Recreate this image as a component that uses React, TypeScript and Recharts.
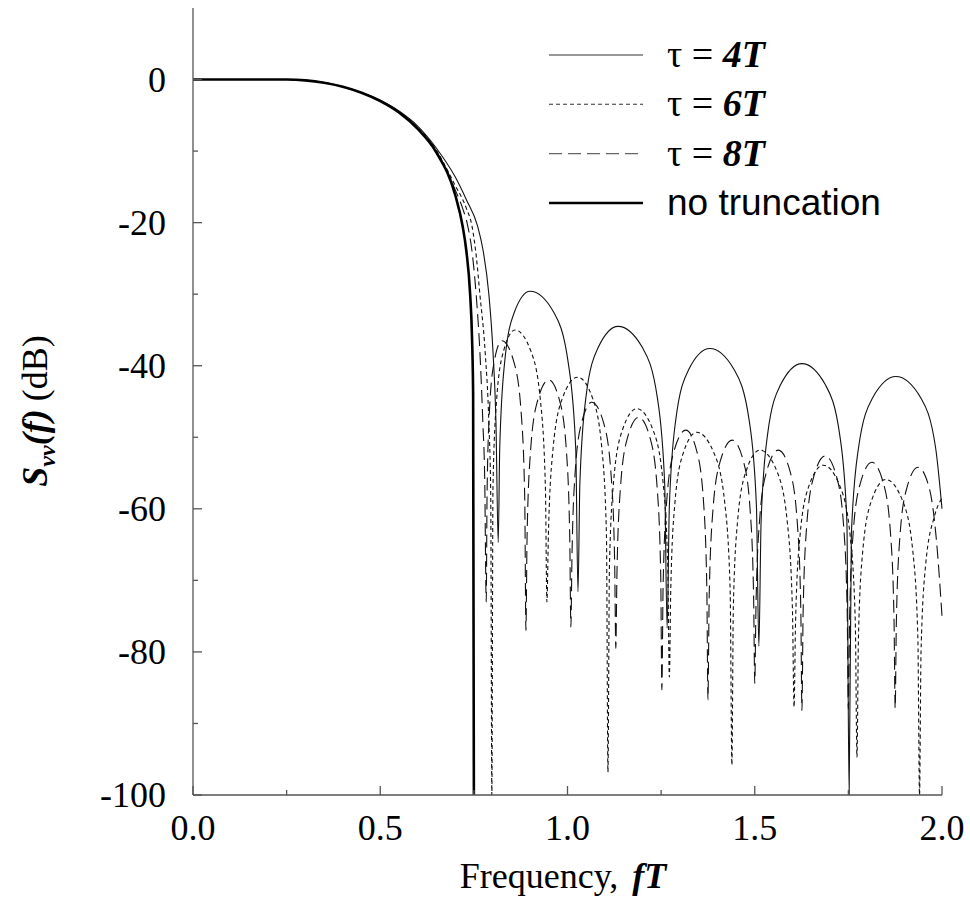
import React from 'react';
import { LineChart, Line, XAxis, YAxis } from 'recharts';

// frequency (fT) and level (dB)
const freqNoTrunc = [0, 0.25, 0.3, 0.35, 0.4, 0.45, 0.5, 0.55, 0.6, 0.65, 0.7, 0.72, 0.73, 0.74, 0.745, 0.748, 0.75];
const dbNoTrunc = [0, 0, -0.11, -0.44, -1.0, -1.84, -3.0, -4.6, -6.9, -10.2, -16.1, -20.5, -24, -30, -36, -44, -100];

const freq4T = [
  0, 0.25, 0.3, 0.4, 0.5, 0.55, 0.6, 0.65, 0.7, 0.73, 0.76, 0.775, 0.79, 0.801, 0.809, 0.815,
  0.819, 0.832, 0.8575, 0.9, 0.964, 1.002, 1.022, 1.028,
  1.033, 1.049, 1.0815, 1.135, 1.2005, 1.24, 1.2595, 1.266,
  1.272, 1.289, 1.323, 1.38, 1.4455, 1.485, 1.5045, 1.511,
  1.517, 1.534, 1.5685, 1.626, 1.689, 1.727, 1.746, 1.752,
  1.758, 1.777, 1.8145, 1.877, 1.9435, 1.983, 2.0,
];
const db4T = [
  0, 0, -0.1, -1.0, -2.9, -4.4, -6.5, -9.6, -13.6, -16.8, -20.5, -24, -30, -38, -48, -64.7,
  -51.6, -39.6, -32.6, -29.6, -32.6, -39.6, -51.6, -71.6,
  -56.5, -44.5, -37.5, -34.5, -37.5, -44.5, -56.5, -76.7,
  -59.6, -47.6, -40.6, -37.6, -40.6, -47.6, -59.6, -79.2,
  -61.7, -49.7, -42.7, -39.7, -42.7, -49.7, -61.7, -100,
  -63.5, -51.5, -44.5, -41.5, -44.5, -51.5, -60,
];

const freq6T = [
  0, 0.25, 0.3, 0.4, 0.5, 0.55, 0.6, 0.65, 0.7, 0.73, 0.745, 0.757, 0.766, 0.78, 0.79, 0.795, 0.798,
  0.801, 0.8104, 0.829, 0.86, 0.9025, 0.928, 0.941, 0.945,
  0.949, 0.9614, 0.986, 1.027, 1.0675, 1.0918, 1.104, 1.108,
  1.112, 1.1234, 1.1465, 1.185, 1.2285, 1.2546, 1.2677, 1.272,
  1.2757, 1.2866, 1.3085, 1.345, 1.392, 1.4202, 1.4343, 1.439,
  1.4428, 1.454, 1.4765, 1.514, 1.5595, 1.5868, 1.6005, 1.605,
  1.6089, 1.6206, 1.644, 1.683, 1.728, 1.755, 1.7685, 1.773,
  1.7769, 1.7884, 1.8115, 1.85, 1.895, 1.922, 1.9355, 1.94,
  1.944, 1.956, 1.98, 2.0,
];
const db6T = [
  0, 0, -0.1, -1.0, -3.0, -4.5, -6.7, -9.9, -14.8, -18, -20.5, -25, -30, -38, -48, -58, -100,
  -57, -45, -38, -35, -38, -45, -57, -73,
  -63.6, -51.6, -44.6, -41.6, -44.6, -51.6, -63.6, -96.8,
  -68, -56, -49, -46, -49, -56, -68, -83.5,
  -71.3, -59.3, -52.3, -49.3, -52.3, -59.3, -71.3, -95.8,
  -73.8, -61.8, -54.8, -51.8, -54.8, -61.8, -73.8, -87.7,
  -75.9, -63.9, -56.9, -53.9, -56.9, -63.9, -75.9, -94.7,
  -77.9, -65.9, -58.9, -55.9, -58.9, -65.9, -77.9, -100,
  -80, -68, -61, -58.5,
];

const freq8T = [
  0, 0.25, 0.3, 0.4, 0.5, 0.55, 0.6, 0.65, 0.7, 0.72, 0.733, 0.745, 0.756, 0.766, 0.774, 0.779, 0.783,
  0.7851, 0.7914, 0.804, 0.825, 0.857, 0.8762, 0.8858, 0.889,
  0.892, 0.9012, 0.9195, 0.95, 0.9795, 0.9972, 1.006, 1.009,
  1.0118, 1.0202, 1.037, 1.065, 1.097, 1.1162, 1.1258, 1.129,
  1.132, 1.1412, 1.1595, 1.19, 1.221, 1.2396, 1.2489, 1.252,
  1.2552, 1.2648, 1.284, 1.316, 1.3455, 1.3632, 1.372, 1.375,
  1.3783, 1.388, 1.4075, 1.44, 1.47, 1.488, 1.497, 1.5,
  1.5032, 1.5126, 1.5315, 1.563, 1.5945, 1.6134, 1.6229, 1.626,
  1.6291, 1.6384, 1.657, 1.688, 1.719, 1.7376, 1.7469, 1.75,
  1.7532, 1.7626, 1.7815, 1.813, 1.844, 1.8626, 1.8719, 1.875,
  1.878, 1.8872, 1.9055, 1.936, 1.9665, 1.9848, 2.0,
];
const db8T = [
  0, 0, -0.1, -1.0, -3.0, -4.55, -6.8, -10.0, -15.4, -18, -20.3, -24, -30, -38, -48, -56, -73,
  -58.5, -46.5, -39.5, -36.5, -39.5, -46.5, -58.5, -77,
  -64, -52, -45, -42, -45, -52, -64, -76.5,
  -67.1, -55.1, -48.1, -45.1, -48.1, -55.1, -67.1, -79.5,
  -69.2, -57.2, -50.2, -47.2, -50.2, -57.2, -69.2, -85.3,
  -71, -59, -52, -49, -52, -59, -71, -86.7,
  -72.4, -60.4, -53.4, -50.4, -53.4, -60.4, -72.4, -84.4,
  -73.8, -61.8, -54.8, -51.8, -54.8, -61.8, -73.8, -88.2,
  -74.6, -62.6, -55.6, -52.6, -55.6, -62.6, -74.6, -88,
  -75.5, -63.5, -56.5, -53.5, -56.5, -63.5, -75.5, -87.9,
  -76.2, -64.2, -57.2, -54.2, -57.2, -64.2, -75,
];

const xTicks = [0, 0.25, 0.5, 0.75, 1.0, 1.25, 1.5, 1.75, 2.0];
const yTicks = [-100, -90, -80, -70, -60, -50, -40, -30, -20, -10, 0];

const toPoints = (fs: number[], dbs: number[]) => fs.map((f, i) => ({ f, db: dbs[i] }));

const serif = '"Liberation Serif", "Times New Roman", Times, serif';
const sans = '"Liberation Sans", Arial, Helvetica, sans-serif';
const axisColor = '#555';

// plot box (page pixels)
const LEFT = 193;
const RIGHT = 942;
const TOP = 8;
const BOTTOM = 795;

const isMajorX = (v: number) => Math.abs(v * 2 - Math.round(v * 2)) < 1e-6;
const isMajorY = (v: number) => Math.abs(v % 20) < 1e-6;

const BottomTick = (props: any) => {
  const { x, payload } = props;
  const v = payload.value;
  const major = isMajorX(v);
  return (
    <g>
      <line x1={x} x2={x} y1={BOTTOM} y2={BOTTOM - (major ? 9 : 5)} stroke={axisColor} strokeWidth={1.3} />
      {major && (
        <text x={x} y={840} textAnchor="middle" fontFamily={serif} fontSize={36} fill="#000">
          {v.toFixed(1)}
        </text>
      )}
    </g>
  );
};

const TopTick = (props: any) => {
  const { x, payload } = props;
  const major = isMajorX(payload.value);
  return <line x1={x} x2={x} y1={TOP} y2={TOP + (major ? 9 : 5)} stroke={axisColor} strokeWidth={1.3} />;
};

const LeftTick = (props: any) => {
  const { y, payload } = props;
  const v = payload.value;
  const major = isMajorY(v);
  return (
    <g>
      <line x1={LEFT} x2={LEFT + (major ? 9 : 5)} y1={y} y2={y} stroke={axisColor} strokeWidth={1.3} />
      {major && (
        <text x={166} y={y} dy="0.34em" textAnchor="end" fontFamily={serif} fontSize={36} fill="#000">
          {v}
        </text>
      )}
    </g>
  );
};

const RightTick = (props: any) => {
  const { y, payload } = props;
  const major = isMajorY(payload.value);
  return <line x1={RIGHT} x2={RIGHT - (major ? 9 : 5)} y1={y} y2={y} stroke={axisColor} strokeWidth={1.3} />;
};

const legendRows = [
  { n: '4T', dash: undefined, width: 1.1, color: '#333' },
  { n: '6T', dash: '4 3', width: 1.1, color: '#333' },
  { n: '8T', dash: '13 6', width: 1.1, color: '#666' },
];

export default function App() {
  return (
    <div style={{ position: 'absolute', left: 0, top: 0, width: 970, height: 902, background: '#fff' }}>
      <LineChart width={970} height={902} margin={{ top: TOP, right: 970 - RIGHT, bottom: 0, left: 0 }}>
        <XAxis
          dataKey="f"
          type="number"
          domain={[0, 2]}
          ticks={xTicks}
          interval={0}
          height={902 - BOTTOM}
          tickLine={false}
          axisLine={{ stroke: axisColor, strokeWidth: 1.3 }}
          tick={<BottomTick />}
        />
        <XAxis
          xAxisId="top"
          orientation="top"
          dataKey="f"
          type="number"
          domain={[0, 2]}
          ticks={xTicks}
          interval={0}
          height={0}
          tickLine={false}
          axisLine={{ stroke: axisColor, strokeWidth: 1.3 }}
          tick={<TopTick />}
        />
        <YAxis
          type="number"
          domain={[-100, 10]}
          ticks={yTicks}
          interval={0}
          width={LEFT}
          tickLine={false}
          axisLine={{ stroke: axisColor, strokeWidth: 1.3 }}
          tick={<LeftTick />}
        />
        <YAxis
          yAxisId="right"
          orientation="right"
          type="number"
          domain={[-100, 10]}
          ticks={yTicks}
          interval={0}
          width={0}
          tickLine={false}
          axisLine={{ stroke: axisColor, strokeWidth: 1.3 }}
          tick={<RightTick />}
        />
        <Line data={toPoints(freq4T, db4T)} dataKey="db" type="monotone" stroke="#111" strokeWidth={1.1} dot={false} activeDot={false} isAnimationActive={false} />
        <Line data={toPoints(freq6T, db6T)} dataKey="db" type="monotone" stroke="#111" strokeWidth={1.1} strokeDasharray="4 3" dot={false} activeDot={false} isAnimationActive={false} />
        <Line data={toPoints(freq8T, db8T)} dataKey="db" type="monotone" stroke="#111" strokeWidth={1.1} strokeDasharray="13 6" dot={false} activeDot={false} isAnimationActive={false} />
        <Line data={toPoints(freqNoTrunc, dbNoTrunc)} dataKey="db" type="monotone" stroke="#000" strokeWidth={2.6} dot={false} activeDot={false} isAnimationActive={false} />
      </LineChart>

      <svg width={970} height={902} style={{ position: 'absolute', left: 0, top: 0, pointerEvents: 'none' }}>
        {legendRows.map((r, i) => {
          const y = 55 + i * 49.3;
          return (
            <g key={r.n}>
              <line x1={549} x2={643} y1={y} y2={y} stroke={r.color} strokeWidth={r.width} strokeDasharray={r.dash} />
              <text x={667} y={y + 12} fontFamily={serif} fontSize={38} fill="#000">
                {'\u03c4 = '}
                <tspan fontWeight="bold" fontStyle="italic">{r.n}</tspan>
              </text>
            </g>
          );
        })}
        <line x1={549} x2={643} y1={203} y2={203} stroke="#000" strokeWidth={2.6} />
        <text x={667} y={215} fontFamily={sans} fontSize={37} fill="#000">no truncation</text>

        <text x={563} y={888} textAnchor="middle" fontFamily={serif} fontSize={36} fill="#000">
          Frequency,
          <tspan dx={14} fontWeight="bold" fontStyle="italic">fT</tspan>
        </text>

        <text transform="translate(47,411) rotate(-90)" textAnchor="middle" fontFamily={serif} fontSize={36} fill="#000">
          <tspan fontWeight="bold" fontStyle="italic">S</tspan>
          <tspan fontWeight="bold" fontStyle="italic" fontSize={24} dy={8}>vv</tspan>
          <tspan fontWeight="bold" fontStyle="italic" dy={-8}>(f)</tspan>
          <tspan dx={8}>(dB)</tspan>
        </text>
      </svg>
    </div>
  );
}
